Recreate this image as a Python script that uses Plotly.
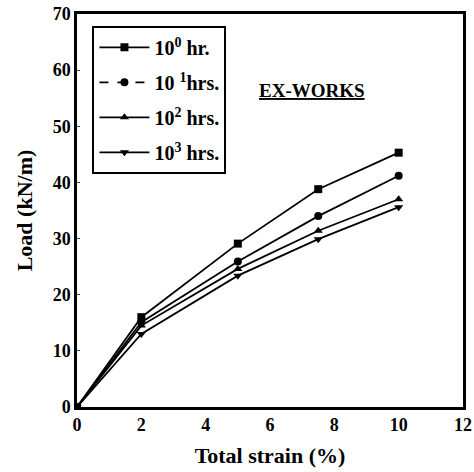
import plotly.graph_objects as go

strain = [0, 2, 5, 7.5, 10]
load_1hr = [0, 16.0, 29.1, 38.8, 45.3]
load_10hr = [0, 15.1, 25.9, 34.0, 41.2]
load_100hr = [0, 14.5, 24.6, 31.4, 37.0]
load_1000hr = [0, 13.0, 23.4, 29.9, 35.6]
names = ["10<sup>0</sup> hr.", "10 <sup>1</sup>hrs.", "10<sup>2</sup> hrs.", "10<sup>3</sup> hrs."]
symbols = ["square", "circle", "triangle-up", "triangle-down"]
legend_dash = ["solid", "dash", "solid", "solid"]
xticks = [0, 2, 4, 6, 8, 10, 12]
yticks = [0, 10, 20, 30, 40, 50, 60, 70]

font = "Liberation Serif"
fig = go.Figure()
series = [load_1hr, load_10hr, load_100hr, load_1000hr]
for ys, sym in zip(series, symbols):
    fig.add_trace(go.Scatter(x=strain, y=ys, mode="lines+markers",
                             line=dict(color="black", width=1.8),
                             marker=dict(symbol=sym, size=8, color="black"),
                             showlegend=False))
for i, (nm, sym, d) in enumerate(zip(names, symbols, legend_dash)):
    fig.add_trace(go.Scatter(x=[None], y=[None], mode="lines+markers", name=nm,
                             legendgroup=f"g{i}",
                             line=dict(color="black", width=1.8, dash=d),
                             marker=dict(symbol=sym, size=8, color="black")))

fig.add_annotation(x=7.3, y=56.3, xref="x", yref="y", text="<u>EX-WORKS</u>",
                   showarrow=False, font=dict(family=font, size=19, color="black", weight="bold"))

fig.update_layout(
    width=474, height=472,
    margin=dict(l=77, r=11, t=14, b=65),
    plot_bgcolor="white", paper_bgcolor="white",
    font=dict(family=font, color="black", weight="bold"),
    legend=dict(x=0.04, y=0.97, xanchor="left", yanchor="top",
                bordercolor="black", borderwidth=2, bgcolor="white",
                font=dict(family=font, size=20, color="black", weight="bold"),
                itemwidth=50, tracegroupgap=6),
    xaxis=dict(range=[0, 12], tickvals=xticks, showline=True, linecolor="black", linewidth=2.5,
               mirror=True, ticks="", showgrid=False, zeroline=False, ticklabeloverflow="allow",
               automargin=False,
               tickfont=dict(family=font, size=18, color="black", weight="bold"),
               title=dict(text="Total strain (%)", font=dict(family=font, size=22, color="black", weight="bold"), standoff=14)),
    yaxis=dict(range=[0, 70], tickvals=yticks, showline=True, linecolor="black", linewidth=2.5,
               mirror=True, ticks="inside", ticklen=3, showgrid=False, zeroline=False, ticklabeloverflow="allow",
               automargin=False,
               tickfont=dict(family=font, size=18, color="black", weight="bold"),
               title=dict(text="Load (kN/m)", font=dict(family=font, size=22, color="black", weight="bold"), standoff=14)),
)
fig.write_html("out.html", config={"displayModeBar": False},
               post_script="document.body.style.margin='0';document.body.style.overflow='hidden';")
